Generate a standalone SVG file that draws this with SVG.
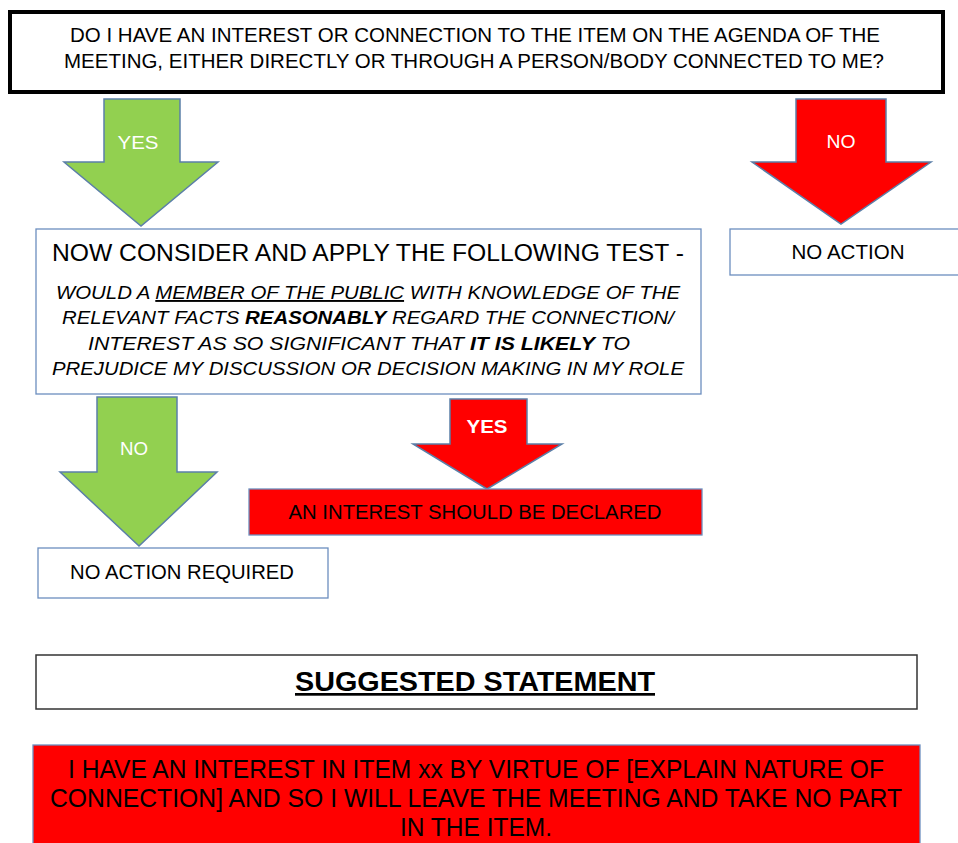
<svg xmlns="http://www.w3.org/2000/svg" width="958" height="843" viewBox="0 0 958 843">
<style>
text{font-family:"Liberation Sans",Arial,sans-serif;fill:#000;text-anchor:middle}
.box{fill:#fff;stroke:#6C8EBF;stroke-width:1.3}
.red{fill:#FF0000;stroke:#6C8EBF;stroke-width:1.3}
.ga{fill:#92D050;stroke:#5B7FA8;stroke-width:1.5}
.ra{fill:#FF0000;stroke:#5B7FA8;stroke-width:1.5}
.lbl{fill:#fff;font-size:19px}
.it{font-style:italic;font-size:19px}
</style>
<rect width="958" height="843" fill="#fff"/>
<g id="question">
<rect x="10" y="12" width="933" height="80" fill="#fff" stroke="#000" stroke-width="4"/>
<text x="475" y="42" font-size="20" textLength="810" lengthAdjust="spacingAndGlyphs">DO I HAVE AN INTEREST OR CONNECTION TO THE ITEM ON THE AGENDA OF THE</text>
<text x="474" y="68" font-size="20" textLength="820" lengthAdjust="spacingAndGlyphs">MEETING, EITHER DIRECTLY OR THROUGH A PERSON/BODY CONNECTED TO ME?</text>
</g>
<g id="connectors">
<g id="arrow-yes-1">
<polygon class="ga" points="104,99 180,99 180,162 218,162 141,226 64,162 104,162"/>
<text class="lbl" x="138" y="149" textLength="41" lengthAdjust="spacingAndGlyphs">YES</text>
</g>
<g id="arrow-no-1">
<polygon class="ra" points="796,99 886,99 886,162 931,162 841,224 752,162 796,162"/>
<text class="lbl" x="841" y="148" textLength="29" lengthAdjust="spacingAndGlyphs">NO</text>
</g>
<g id="arrow-no-2">
<polygon class="ga" points="97,397 177,397 177,472 217,472 139,546 60,472 97,472"/>
<text class="lbl" x="134" y="455" textLength="28" lengthAdjust="spacingAndGlyphs">NO</text>
</g>
<g id="arrow-yes-2">
<polygon class="ra" points="450,399 527,399 527,444 562,444 487,489 413,444 450,444"/>
<text class="lbl" x="487" y="433" font-weight="bold" textLength="41" lengthAdjust="spacingAndGlyphs">YES</text>
</g>
</g>
<g id="no-action">
<rect class="box" x="730" y="229" width="240" height="46"/>
<text x="848" y="259" font-size="20" textLength="113" lengthAdjust="spacingAndGlyphs">NO ACTION</text>
</g>
<g id="test">
<rect class="box" x="36" y="229" width="665" height="165"/>
<text x="368" y="261" font-size="23" textLength="632" lengthAdjust="spacingAndGlyphs">NOW CONSIDER AND APPLY THE FOLLOWING TEST -</text>
<text class="it" x="368" y="299" textLength="624" lengthAdjust="spacingAndGlyphs">WOULD A <tspan text-decoration="underline">MEMBER OF THE PUBLIC</tspan> WITH KNOWLEDGE OF THE</text>
<text class="it" x="368" y="324" textLength="612" lengthAdjust="spacingAndGlyphs">RELEVANT FACTS <tspan font-weight="bold">REASONABLY</tspan> REGARD THE CONNECTION/</text>
<text class="it" x="359" y="350" textLength="542" lengthAdjust="spacingAndGlyphs">INTEREST AS SO SIGNIFICANT THAT <tspan font-weight="bold">IT IS LIKELY</tspan> TO</text>
<text class="it" x="368" y="375" textLength="632" lengthAdjust="spacingAndGlyphs">PREJUDICE MY DISCUSSION OR DECISION MAKING IN MY ROLE</text>
</g>
<g id="declare">
<rect class="red" x="249" y="489" width="453" height="46"/>
<text x="475" y="519" font-size="20" textLength="373" lengthAdjust="spacingAndGlyphs">AN INTEREST SHOULD BE DECLARED</text>
</g>
<g id="no-action-required">
<rect class="box" x="38" y="548" width="290" height="50"/>
<text x="182" y="579" font-size="20" textLength="224" lengthAdjust="spacingAndGlyphs">NO ACTION REQUIRED</text>
</g>
<g id="suggested">
<rect x="36" y="655" width="881" height="54" fill="#fff" stroke="#333" stroke-width="1.5"/>
<text x="475" y="691" font-size="27" font-weight="bold" text-decoration="underline" textLength="360" lengthAdjust="spacingAndGlyphs">SUGGESTED STATEMENT</text>
</g>
<g id="statement">
<rect class="red" x="33" y="745" width="887" height="110"/>
<text x="476" y="778" font-size="25" textLength="816" lengthAdjust="spacingAndGlyphs">I HAVE AN INTEREST IN ITEM xx BY VIRTUE OF [EXPLAIN NATURE OF</text>
<text x="476" y="807" font-size="25" textLength="852" lengthAdjust="spacingAndGlyphs">CONNECTION] AND SO I WILL LEAVE THE MEETING AND TAKE NO PART</text>
<text x="476" y="836" font-size="25" textLength="152" lengthAdjust="spacingAndGlyphs">IN THE ITEM.</text>
</g>
</svg>
